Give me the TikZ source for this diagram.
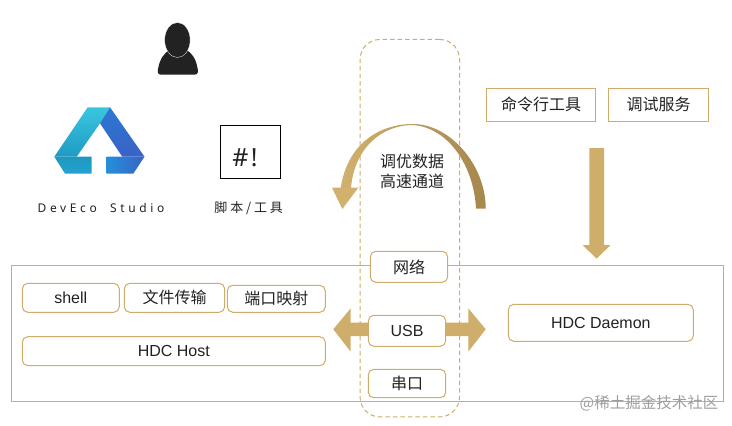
\documentclass[tikz,border=0pt]{standalone}
\usepackage{fontspec}
\usetikzlibrary{shapes.geometric}
\setmainfont{Liberation Sans}
\newfontfamily\notolat{Noto Sans}
\newfontfamily\cjk{Noto Sans CJK SC}
\newfontfamily\cjkspaced[LetterSpace=22]{Noto Sans CJK SC}
\newfontfamily\latspaced[LetterSpace=30]{Noto Sans}
\definecolor{gold}{HTML}{CFAC68}
\definecolor{goldfill}{HTML}{CFAE6C}
\definecolor{golddark}{HTML}{A6874C}
\definecolor{goldlight}{HTML}{D2B06D}
\definecolor{goldmid}{HTML}{C9A866}
\definecolor{ink}{HTML}{222222}
\definecolor{lcyan}{HTML}{3AC6DF}
\definecolor{lteal}{HTML}{1F9AC4}
\definecolor{lfold}{HTML}{1F98BE}
\definecolor{lsky}{HTML}{22A3D0}
\definecolor{lblue}{HTML}{2A78D2}
\definecolor{lindigo}{HTML}{3A62C6}
\definecolor{lazure}{HTML}{2390DA}
\tikzset{
  sqbox/.style={draw=gold,line width=1pt,fill=white,inner sep=0pt,text=ink,font=\fontsize{16}{18}\selectfont\cjk},
  rbox/.style={sqbox,rounded corners=5.5pt},
  latin/.style={font=\fontsize{16}{18}\selectfont},
  blockarrow/.style={fill=goldfill,draw=none},
  caption/.style={inner sep=0pt,text=ink},
}
\begin{document}
\begin{tikzpicture}[x=1pt,y=-1pt]
\useasboundingbox (0,0) rectangle (732,426);
% outer frame
\node[draw=gold,line width=1pt,minimum width=712pt,minimum height=136pt,inner sep=0pt] (frame) at (367.5,333.5) {};
% person
\fill[ink] (161,74.7) .. controls (157,74.7) and (157.5,71) .. (158.2,68)
  .. controls (160,59) and (164,53) .. (170,49.5) -- (186,49.5)
  .. controls (192,53) and (196,59) .. (197.5,68)
  .. controls (198.2,71) and (198.5,74.7) .. (194.5,74.7) -- cycle;
\node[ellipse,draw=white,line width=0.3pt,fill=ink,minimum width=25.5pt,minimum height=35pt,inner sep=0pt] (head) at (177.4,40) {};
% logo
\shade[top color=lcyan,bottom color=lteal] (87.7,107.3) -- (110,107.3) -- (100,123.3) -- (76.7,156.7) -- (54.3,156.7) -- cycle;
\shade[top color=lfold,bottom color=lsky] (54.3,156.7) -- (91.7,156.7) -- (91.7,173.6) -- (65,173.6) -- cycle;
\shade[top color=lblue,bottom color=lindigo] (110,107.3) -- (144.5,156.7) -- (122.3,156.7) -- (100,123.3) -- cycle;
\shade[left color=lazure,right color=lindigo] (106.7,156.7) -- (144.5,156.7) -- (133.3,173.6) -- (106.7,173.6) -- cycle;
\node[caption,font=\fontsize{12}{14}\selectfont\latspaced] (deveco) at (101,207.5) {DevEco\ \ Studio};
% script box
\node[draw=black,line width=0.8pt,minimum width=60.4pt,minimum height=53pt,inner sep=0pt] (script) at (250.5,151.8) {};
\node[caption,font=\fontsize{25}{27}\selectfont\notolat] (hash) at (245,158) {\#\hspace{2.5pt}!};
\node[caption,font=\fontsize{13}{15}\selectfont\cjkspaced] (jiaoben) at (248.7,208) {脚本/工具};
% top right boxes
\node[sqbox,minimum width=109.4pt,minimum height=33pt] (cmd) at (541,104.8) {命令行工具};
\node[sqbox,minimum width=100.4pt,minimum height=33pt] (svc) at (658.5,104.8) {调试服务};
% down arrow
\path[blockarrow] (589.3,148) -- (604,148) -- (604,245) -- (610.7,245) -- (596.5,258.7) -- (582.7,245) -- (589.3,245) -- cycle;
% double arrow
\path[blockarrow] (333.3,329.3) -- (350.7,308.3) -- (350.7,322.7) -- (468.3,322.7) -- (468.3,308.3) -- (485.7,329.3) -- (468.3,351.7) -- (468.3,336) -- (350.7,336) -- (350.7,351.7) -- cycle;
% dashed channel
\node[draw=gold,line width=1pt,dash pattern=on 4.5pt off 3pt,rounded corners=20pt,minimum width=99.5pt,minimum height=377.5pt,inner sep=0pt] (channel) at (409.8,228.2) {};
% curved arrow
\shade[left color=goldlight,middle color=goldmid,right color=golddark]
  (485.7,208.5) .. controls (485.7,165) and (450,124) .. (413,124)
  .. controls (378,124) and (347,145) .. (340.7,188)
  -- (351,188) .. controls (354,150) and (380,125) .. (413,125)
  .. controls (450,128) and (474,168) .. (476,208.5) -- cycle;
\path[fill=goldlight] (332,187.7) -- (358.3,187.7) -- (342.3,209) -- cycle;
\node[caption,align=center,font=\fontsize{16}{20}\selectfont\cjk] (tune) at (412,171.5) {调优数据\\高速通道};
% host boxes
\node[rbox,latin,minimum width=97pt,minimum height=29pt] (shell) at (70.8,297.8) {shell};
\node[rbox,minimum width=100.4pt,minimum height=29pt] (file) at (174.5,297.8) {文件传输};
\node[rbox,minimum width=98pt,minimum height=27pt] (port) at (276.3,298.8) {端口映射};
\node[rbox,latin,minimum width=303pt,minimum height=29pt] (host) at (173.8,351.2) {HDC Host};
% link boxes
\node[rbox,minimum width=77.4pt,minimum height=31pt] (net) at (409,266.8) {网络};
\node[rbox,latin,minimum width=77.4pt,minimum height=31pt] (usb) at (407,330.8) {USB};
\node[rbox,minimum width=77.4pt,minimum height=28.4pt] (serial) at (407,383.5) {串口};
% daemon
\node[rbox,latin,minimum width=185pt,minimum height=37pt] (daemon) at (600.8,322.8) {HDC Daemon};
% watermark
\node[inner sep=0pt,text=black!38,font=\fontsize{15.5}{18}\selectfont\cjk] (mark) at (649,403) {@稀土掘金技术社区};
\end{tikzpicture}
\end{document}
